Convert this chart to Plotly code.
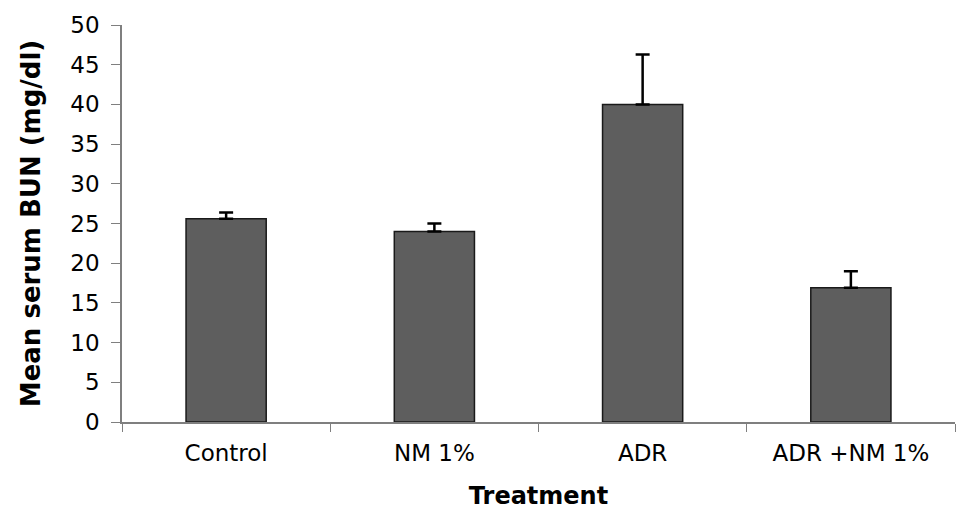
import plotly.graph_objects as go

categories = ["Control", "NM 1%", "ADR", "ADR +NM 1%"]
means = [25.6, 24.0, 40.0, 16.9]
errors_up = [0.8, 1.0, 6.3, 2.1]
y_ticks = [0, 5, 10, 15, 20, 25, 30, 35, 40, 45, 50]

fig = go.Figure()
fig.add_trace(go.Bar(
    x=categories,
    y=means,
    marker=dict(color="#5e5e5e", line=dict(color="#1a1a1a", width=1.5)),
    error_y=dict(type="data", array=errors_up, arrayminus=[0] * len(errors_up),
                 symmetric=False, color="black", thickness=2.5, width=7),
    width=0.385,
))

fig.update_layout(
    width=961, height=514,
    margin=dict(l=114, r=14, t=17, b=100),
    paper_bgcolor="white", plot_bgcolor="white",
    showlegend=False,
    font=dict(family="DejaVu Sans", color="black"),
    xaxis=dict(
        automargin=False,
        showline=True, linecolor="#7f7f7f", linewidth=1.5,
        ticks="outside", tickson="boundaries", ticklen=8, tickcolor="#7f7f7f",
        tickfont=dict(size=23, color="black"), ticklabelstandoff=10,
        title=dict(text="<b>Treatment</b>", font=dict(size=24), standoff=22),
        showgrid=False,
    ),
    yaxis=dict(
        automargin=False,
        range=[0, 50], tickvals=y_ticks,
        showline=True, linecolor="#7f7f7f", linewidth=1.5,
        ticks="outside", ticklen=9, tickcolor="#7f7f7f",
        tickfont=dict(size=23, color="black"), ticklabelstandoff=7,
        title=dict(text="<b>Mean serum BUN (mg/dl)</b>", font=dict(size=26), standoff=22),
        showgrid=False, zeroline=False,
    ),
)

fig.write_html("out.html")
